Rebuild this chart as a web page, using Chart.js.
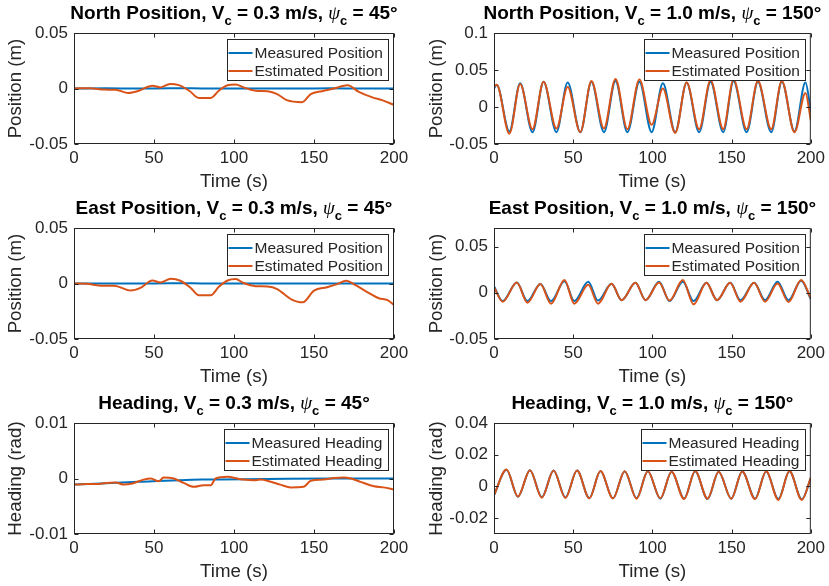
<!DOCTYPE html>
<html>
<head>
<meta charset="utf-8">
<script src="https://cdn.jsdelivr.net/npm/chart.js@4.4.1/dist/chart.umd.min.js"></script>
<style>
  body { margin: 0; background: #fff; }
  #fig { position: relative; width: 829px; height: 586px; background: #fff; }
  #fig canvas { position: absolute; }
</style>
</head>
<body>
<div id="fig"></div>
<script>
// ---- North position, Vc = 0.3 m/s ----
const northSlowMeasT = [0, 20, 40, 60, 80, 100, 120, 140, 160, 180, 200];
const northSlowMeas = [0, 0.0002, 0, 0.0002, 0.0001, 0, 0.0001, 0, 0.0002, 0, 0];
const northSlowEstT = [0, 10, 19, 26, 34, 40.5, 49, 54, 60, 65.5, 72, 78, 85.5, 90.5, 96, 101, 106, 113.5, 121, 127, 133, 142.5, 148, 155, 162.5, 171, 178, 186.5, 192.5, 200];
const northSlowEst = [0, 0.0003, -0.001, -0.0012, -0.004, -0.002, 0.0025, 0.001, 0.004, 0.003, -0.002, -0.0085, -0.0085, -0.002, 0.003, 0.0035, 0.001, -0.002, -0.0025, -0.005, -0.0105, -0.0123, -0.005, -0.0024, 0, 0.003, -0.003, -0.008, -0.0105, -0.0148];

// ---- North position, Vc = 1.0 m/s (peaks and troughs) ----
const northFastT = [0, 1.7, 9.7, 16.5, 24.3, 31.3, 39.4, 46.5, 54.5, 61.5, 69.4, 76.7, 84.2, 91.8, 99.5, 106.6, 114.4, 121.6, 129.5, 136.7, 144.7, 151.2, 159.5, 166.6, 175, 181.7, 189.7, 196.6, 200];
const northFastMeas = [0.025, 0.03, -0.033, 0.032, -0.034, 0.034, -0.034, 0.033, -0.034, 0.034, -0.034, 0.035, -0.034, 0.034, -0.034, 0.032, -0.034, 0.033, -0.034, 0.034, -0.034, 0.035, -0.034, 0.034, -0.034, 0.034, -0.033, 0.033, -0.006];
const northFastEst = [0.027, 0.03, -0.036, 0.031, -0.030, 0.034, -0.029, 0.027, -0.034, 0.035, -0.029, 0.038, -0.030, 0.037, -0.024, 0.025, -0.035, 0.033, -0.030, 0.036, -0.030, 0.037, -0.030, 0.035, -0.030, 0.035, -0.034, 0.019, -0.018];

// ---- East position, Vc = 0.3 m/s ----
const eastSlowMeasT = [0, 20, 40, 60, 80, 100, 120, 140, 160, 180, 200];
const eastSlowMeas = [0, 0.0001, 0, 0.0002, 0.0001, 0, 0.0001, 0, 0.0001, 0, 0];
const eastSlowEstT = [0, 8, 17.5, 25, 35.5, 41.5, 49, 54, 60.5, 66.5, 73, 78, 85.5, 90.5, 96, 101, 106, 113.5, 121, 127, 135.5, 143, 150, 158, 164.5, 170, 176, 183, 190.5, 196, 200];
const eastSlowEst = [0, -0.0003, -0.002, -0.002, -0.0064, -0.004, 0.0027, 0.001, 0.0043, 0.0025, -0.004, -0.0106, -0.0106, -0.003, 0.0027, 0.004, 0.0004, -0.0024, -0.0027, -0.005, -0.014, -0.017, -0.0064, -0.0033, -0.0006, 0.0025, -0.0015, -0.0075, -0.0133, -0.015, -0.0195];

// ---- East position, Vc = 1.0 m/s ----
const eastFastT = [0, 5.5, 14.4, 21.1, 29.3, 36, 44.5, 50.7, 59.5, 65.7, 74.2, 80.6, 89.3, 95.7, 104.2, 110.8, 119.2, 126, 134.1, 140.8, 149.1, 155.6, 164.2, 171.1, 179, 185.9, 193.9, 200];
const eastFastMeas = [0.007, -0.009, 0.011, -0.009, 0.0095, -0.009, 0.0125, -0.009, 0.0118, -0.0085, 0.0096, -0.008, 0.0107, -0.008, 0.0118, -0.009, 0.012, -0.009, 0.0107, -0.008, 0.0107, -0.008, 0.0107, -0.008, 0.012, -0.008, 0.013, -0.007];
const eastFastEst = [0.006, -0.0096, 0.011, -0.0107, 0.0095, -0.0118, 0.0137, -0.0118, 0.0086, -0.0118, 0.0096, -0.008, 0.0107, -0.008, 0.0112, -0.0085, 0.0137, -0.0125, 0.0107, -0.008, 0.0107, -0.0096, 0.0107, -0.0096, 0.01, -0.01, 0.0137, -0.006];

// ---- Heading, Vc = 0.3 m/s ----
const headSlowMeasT = [0, 40, 80, 120, 160, 200];
const headSlowMeas = [-0.0011, -0.0006, -0.0002, -0.0001, 0, 0];
const headSlowEstT = [0, 8, 14.5, 20, 26, 31, 36.5, 43.5, 48, 53, 56, 62.5, 68.5, 75, 81, 85.5, 88.5, 96, 102, 106, 112.5, 116.5, 123, 129, 135.5, 143.5, 148, 156, 162.5, 168.5, 173, 179, 187.5, 193.5, 200];
const headSlowEst = [-0.0011, -0.001, -0.001, -0.0008, -0.0007, -0.0011, -0.0009, -0.0002, 0, -0.0005, 0.0002, 0, -0.0008, -0.0015, -0.0012, -0.0012, 0, 0.0003, 0, -0.0002, -0.0003, -0.0002, -0.0006, -0.0011, -0.0016, -0.0015, -0.0004, -0.0002, 0.0001, 0.0002, 0, -0.0006, -0.0014, -0.0016, -0.002];

// ---- Heading, Vc = 1.0 m/s ----
const headFastT = [0, 7.9, 15.1, 22.7, 30.2, 37.6, 45.1, 52.4, 60.2, 67.2, 75.1, 82.5, 90, 97.1, 105, 112.1, 120, 127, 134.8, 141.8, 149.8, 156.7, 164.8, 171.8, 179.5, 186.5, 194.3, 200];
const headFastMeas = [-0.0055, 0.0105, -0.0065, 0.0102, -0.0068, 0.01, -0.007, 0.01, -0.0074, 0.0097, -0.0075, 0.0096, -0.0075, 0.0095, -0.0077, 0.0092, -0.0076, 0.0095, -0.0079, 0.0092, -0.0077, 0.0094, -0.0077, 0.0094, -0.0079, 0.0095, -0.0081, 0.005];
const headFastEst = [-0.0055, 0.0107, -0.0064, 0.0102, -0.0071, 0.0101, -0.0073, 0.01, -0.0075, 0.0097, -0.0076, 0.0096, -0.0077, 0.0096, -0.0075, 0.0093, -0.008, 0.0097, -0.0077, 0.0092, -0.0077, 0.0094, -0.008, 0.0095, -0.0085, 0.0097, -0.0085, 0.0055];

const BLUE = '#0072BD';
const ORANGE = '#D95319';
const INK = '#262626';
const FONT = '"Liberation Sans", Arial, Helvetica, sans-serif';

const panels = [
  { col: 0, row: 0, name: 'North Position', vc: '0.3', psi: '45', ylabel: 'Position (m)', what: 'Position',
    yMin: -0.05, yMax: 0.05, yStep: 0.05, meas: [northSlowMeasT, northSlowMeas], est: [northSlowEstT, northSlowEst] },
  { col: 1, row: 0, name: 'North Position', vc: '1.0', psi: '150', ylabel: 'Position (m)', what: 'Position',
    yMin: -0.05, yMax: 0.1, yStep: 0.05, meas: [northFastT, northFastMeas], est: [northFastT, northFastEst] },
  { col: 0, row: 1, name: 'East Position', vc: '0.3', psi: '45', ylabel: 'Position (m)', what: 'Position',
    yMin: -0.05, yMax: 0.05, yStep: 0.05, meas: [eastSlowMeasT, eastSlowMeas], est: [eastSlowEstT, eastSlowEst] },
  { col: 1, row: 1, name: 'East Position', vc: '1.0', psi: '150', ylabel: 'Position (m)', what: 'Position',
    yMin: -0.05, yMax: 0.07, yStep: 0.05, meas: [eastFastT, eastFastMeas], est: [eastFastT, eastFastEst] },
  { col: 0, row: 2, name: 'Heading', vc: '0.3', psi: '45', ylabel: 'Heading (rad)', what: 'Heading',
    yMin: -0.01, yMax: 0.01, yStep: 0.01, meas: [headSlowMeasT, headSlowMeas], est: [headSlowEstT, headSlowEst] },
  { col: 1, row: 2, name: 'Heading', vc: '1.0', psi: '150', ylabel: 'Heading (rad)', what: 'Heading',
    yMin: -0.03, yMax: 0.04, yStep: 0.02, meas: [headFastT, headFastMeas], est: [headFastT, headFastEst] },
];

function pts(t, v) {
  return t.map((x, i) => ({ x: x, y: v[i] }));
}

// box with inward ticks, legend inside the top-right corner, and the title with subscripts
const matlabAxes = {
  id: 'matlabAxes',
  afterDatasetsDraw(chart) {
    const { ctx, chartArea: a, scales: { x, y } } = chart;
    const L = a.left + 0.5, R = a.right - 0.5, T = a.top + 0.5, B = a.bottom - 0.5;
    ctx.save();
    ctx.strokeStyle = INK;
    ctx.lineWidth = 1;
    ctx.strokeRect(L, T, R - L, B - T);
    const tl = 4;
    ctx.beginPath();
    x.ticks.forEach(t => {
      const px = Math.round(x.getPixelForValue(t.value)) + 0.5;
      ctx.moveTo(px, B); ctx.lineTo(px, B - tl);
      ctx.moveTo(px, T); ctx.lineTo(px, T + tl);
    });
    y.ticks.forEach(t => {
      const py = Math.round(y.getPixelForValue(t.value)) + 0.5;
      ctx.moveTo(L, py); ctx.lineTo(L + tl, py);
      ctx.moveTo(R, py); ctx.lineTo(R - tl, py);
    });
    ctx.stroke();

    // legend
    const sets = chart.data.datasets;
    ctx.font = '15.5px ' + FONT;
    const tw = Math.max(...sets.map(d => ctx.measureText(d.label).width));
    const w = Math.round(28 + tw + 5), h = 41;
    const bx = Math.round(a.right - 6 - w) + 0.5, by = Math.round(a.top + 6) + 0.5;
    ctx.fillStyle = '#fff';
    ctx.fillRect(bx, by, w, h);
    ctx.strokeStyle = INK;
    ctx.strokeRect(bx, by, w, h);
    sets.forEach((d, i) => {
      const cy = Math.round(by + 13 + i * 18);
      ctx.strokeStyle = d.borderColor;
      ctx.lineWidth = 2;
      ctx.beginPath();
      ctx.moveTo(bx + 1, cy); ctx.lineTo(bx + 25, cy);
      ctx.stroke();
      ctx.fillStyle = INK;
      ctx.textBaseline = 'middle';
      ctx.textAlign = 'left';
      ctx.fillText(d.label, bx + 27, cy + 1);
    });

    // title
    const p = chart.options.plugins.matlabAxes;
    const big = 'bold 19px ' + FONT, sub = 'bold 13px ' + FONT, greek = 'italic 19px "Liberation Serif", serif';
    const parts = [
      [p.name + ', V', big, 0], ['c', sub, 6], [' = ' + p.vc + ' m/s, ', big, 0],
      ['\u03C8', greek, 0], ['c', sub, 6], [' = ' + p.psi + '\u00B0', big, 0]
    ];
    let total = 0;
    parts.forEach(q => { ctx.font = q[1]; total += ctx.measureText(q[0]).width; });
    let tx = (a.left + a.right) / 2 - total / 2;
    ctx.fillStyle = '#000';
    ctx.textBaseline = 'alphabetic';
    parts.forEach(q => {
      ctx.font = q[1];
      ctx.fillText(q[0], tx, 19 + q[2]);
      tx += ctx.measureText(q[0]).width;
    });
    ctx.restore();
  }
};

const fig = document.getElementById('fig');

panels.forEach(p => {
  const cv = document.createElement('canvas');
  const W = p.col === 0 ? 414 : 415;
  cv.width = W;
  cv.height = 195;
  cv.style.left = (p.col === 0 ? 0 : 414) + 'px';
  cv.style.top = (p.row * 195) + 'px';
  fig.appendChild(cv);

  new Chart(cv, {
    type: 'line',
    data: {
      datasets: [
        // estimate is drawn over the measurement
        { label: 'Measured ' + p.what, data: pts(p.meas[0], p.meas[1]), borderColor: BLUE, borderWidth: 2,
          pointRadius: 0, cubicInterpolationMode: 'monotone', fill: false, order: 1 },
        { label: 'Estimated ' + p.what, data: pts(p.est[0], p.est[1]), borderColor: ORANGE, borderWidth: 2,
          pointRadius: 0, cubicInterpolationMode: 'monotone', fill: false, order: 0 }
      ]
    },
    options: {
      responsive: false,
      animation: false,
      layout: { padding: { top: 33, right: p.col === 0 ? 20 : 16, bottom: 0, left: 0 } },
      plugins: {
        legend: { display: false },
        tooltip: { enabled: false },
        matlabAxes: { name: p.name, vc: p.vc, psi: p.psi }
      },
      scales: {
        x: {
          type: 'linear', min: 0, max: 200,
          grid: { display: false, drawTicks: false },
          border: { display: false },
          ticks: { stepSize: 50, color: INK, font: { family: FONT, size: 17 }, padding: 4, maxRotation: 0, autoSkip: false },
          title: { display: true, text: 'Time (s)', color: INK, font: { family: FONT, size: 18.7 }, padding: { top: 0, bottom: 2 } },
          afterFit: s => { s.height = 51; }
        },
        y: {
          type: 'linear', min: p.yMin, max: p.yMax,
          grid: { display: false, drawTicks: false },
          border: { display: false },
          ticks: { stepSize: p.yStep, includeBounds: false, color: INK, font: { family: FONT, size: 17 }, padding: 6,
            callback: v => String(parseFloat(v.toFixed(6))) },
          title: { display: true, text: p.ylabel, color: INK, font: { family: FONT, size: 18.7 },
            padding: { top: p.col === 0 ? 5 : 12, bottom: 0 } },
          afterFit: s => { s.width = p.col === 0 ? 74 : 80; }
        }
      }
    },
    plugins: [matlabAxes]
  });
});
</script>
</body>
</html>
